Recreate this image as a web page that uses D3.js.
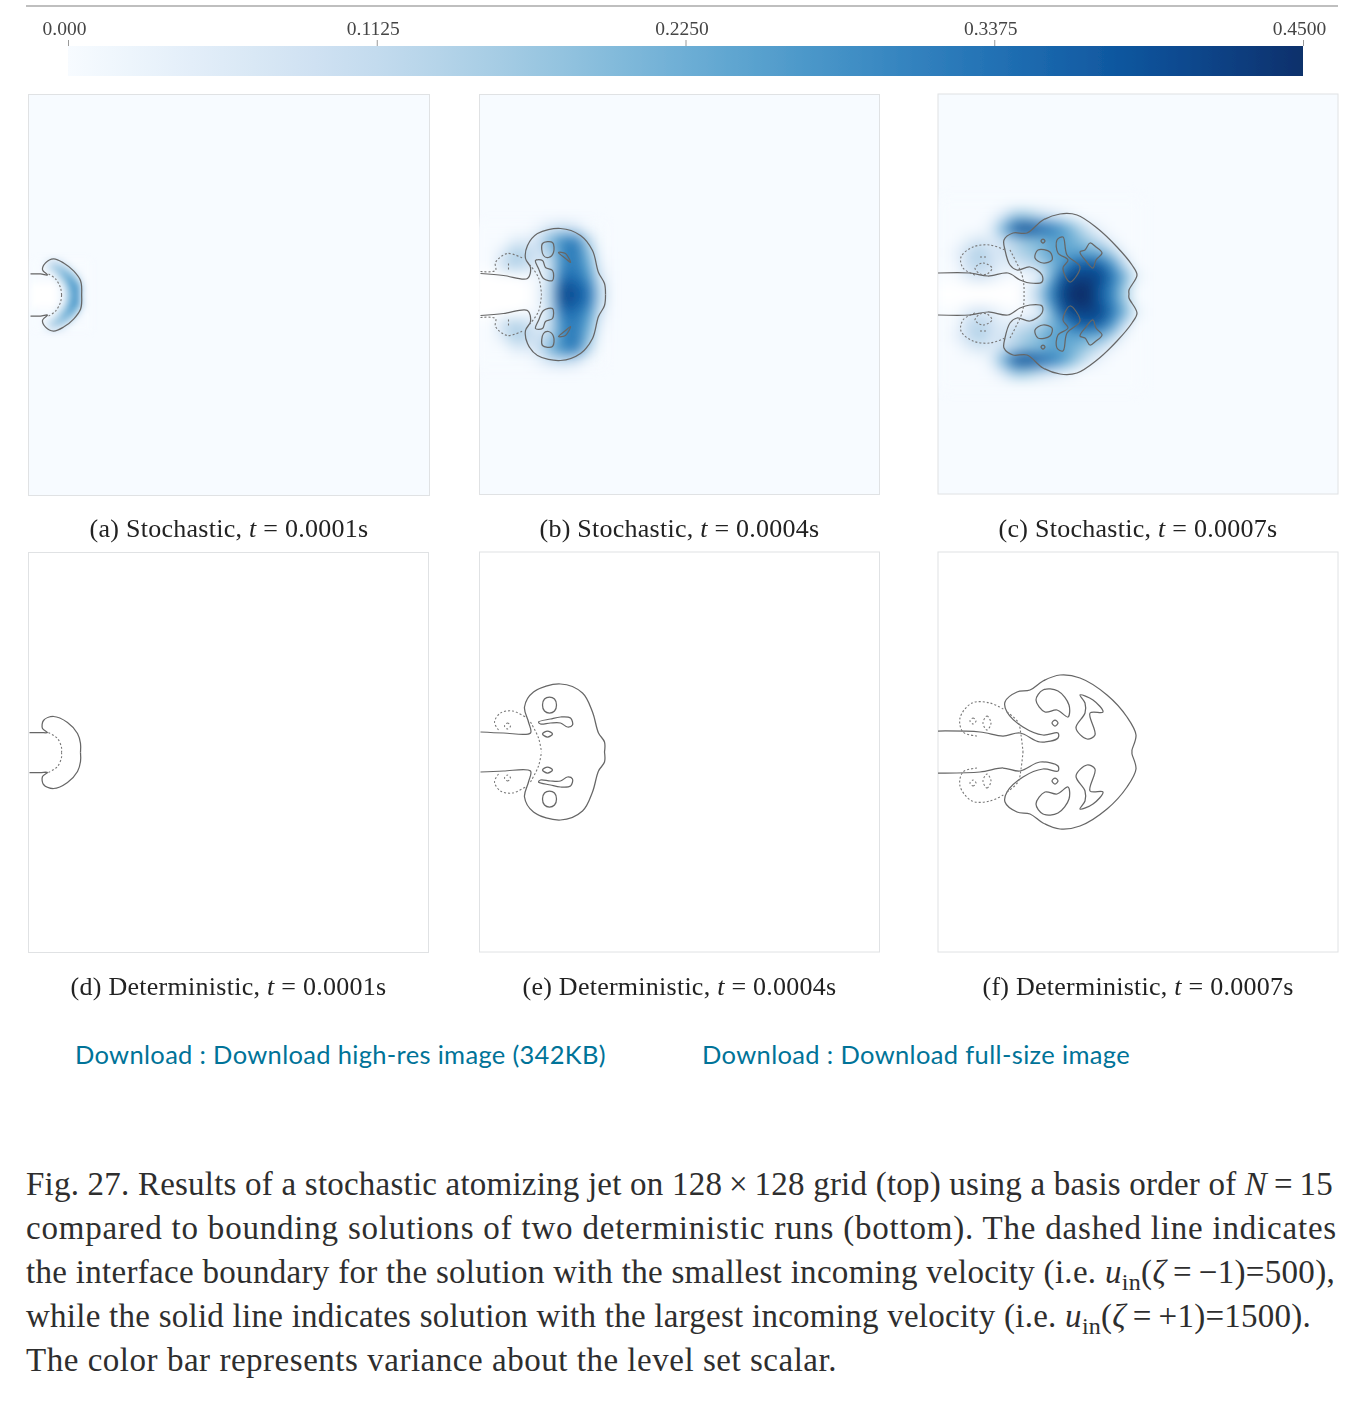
<!DOCTYPE html>
<html>
<head>
<meta charset="utf-8">
<script src="https://cdn.jsdelivr.net/npm/d3@7"></script>
<style>
  body { margin: 0; background: #fff; }
  svg { display: block; }
</style>
</head>
<body>
<svg id="fig" width="1352" height="1402"></svg>
<script>
// colour bar
const barTicks = [0, 0.1125, 0.225, 0.3375, 0.45];
const barTickLabels = ["0.000", "0.1125", "0.2250", "0.3375", "0.4500"];

// variance fields, upper half only (lower half is the mirror image)
// null = jet core, drawn white
const fieldA = { x0: 6, y0: 3, step: 6, rows: [
  [null, null, null, null, 0, 0.04, 0.2, 0.27, 0.05, 0],
  [null, null, null, null, 0, 0.07, 0.23, 0.26, 0.06, 0],
  [0, 0, 0, 0, 0.04, 0.16, 0.26, 0.17, 0.02, 0],
  [0, 0, 0, 0.02, 0.13, 0.22, 0.18, 0.06, 0, 0],
  [0, 0, 0.04, 0.13, 0.18, 0.15, 0.06, 0, 0, 0],
  [0, 0, 0.04, 0.1, 0.08, 0.03, 0, 0, 0, 0]
]};
const fieldB = { x0: 0, y0: 6, step: 12, rows: [
  [null, null, null, null, null, 0.02, 0.14, 0.41, 0.38, 0.34, 0.12],
  [null, null, null, null, 0, 0.01, 0.12, 0.34, 0.34, 0.28, 0.07],
  [0, 0, 0.1, 0.14, 0.1, 0.04, 0.11, 0.3, 0.32, 0.24, 0.03],
  [0, 0, 0.06, 0.15, 0.12, 0.08, 0.14, 0.3, 0.33, 0.2, 0.01],
  [0, 0, 0, 0.05, 0.05, 0.1, 0.22, 0.3, 0.32, 0.14, 0],
  [0, 0, 0, 0, 0, 0.03, 0.08, 0.1, 0.07, 0.01, 0]
]};
const fieldC = { x0: 6, y0: 6, step: 12, rows: [
  [null, null, null, null, null, null, null, 0.03, 0.14, 0.3, 0.42, 0.47, 0.45, 0.38, 0.3, 0.16, 0],
  [0, 0, 0.05, 0.08, 0.05, 0.01, 0, 0.01, 0.03, 0.22, 0.38, 0.42, 0.42, 0.41, 0.33, 0.22, 0.04],
  [0, 0.01, 0.1, 0.13, 0.09, 0.04, 0.07, 0.1, 0.14, 0.2, 0.27, 0.36, 0.38, 0.36, 0.27, 0.1, 0],
  [0, 0.03, 0.1, 0.15, 0.08, 0.07, 0.13, 0.16, 0.2, 0.26, 0.24, 0.25, 0.23, 0.22, 0.13, 0.02, 0],
  [0, 0, 0.04, 0.07, 0.05, 0.1, 0.14, 0.19, 0.2, 0.24, 0.24, 0.21, 0.16, 0.09, 0.02, 0, 0],
  [0, 0, 0, 0, 0.05, 0.22, 0.38, 0.4, 0.36, 0.32, 0.26, 0.17, 0.07, 0.02, 0, 0, 0],
  [0, 0, 0, 0, 0.01, 0.08, 0.18, 0.17, 0.12, 0.08, 0.04, 0.01, 0, 0, 0, 0, 0],
  [0, 0, 0, 0, 0, 0, 0, 0, 0, 0, 0, 0, 0, 0, 0, 0, 0]
]};

// interface contours, as [x, height above jet axis], upper half
const solidA = [[[2, 21], [12, 21], [19, 20], [14, 25], [17, 32], [25, 36], [35, 32], [45, 24], [52, 14], [53, 0]]];
const dashedA = [[[20, 21], [27, 16], [32, 7], [33, 0]]];

const solidB = [[[1, 21], [24, 19], [48, 16], [51, 27], [46, 36], [48, 49], [58, 61], [81, 66], [101, 59], [113, 44], [119, 22], [125, 11], [126, 0]]];
const blobsB = [
  [[63, 51], [73, 52], [74, 42], [69, 37], [64, 39]],
  [[56, 34], [63, 34], [66, 27], [73, 24], [73, 14], [64, 16], [59, 26]],
  [[79, 42], [86, 41], [91, 32], [86, 36]]
];
const dashedB = [
  [[1, 23], [16, 24], [16, 32], [28, 41], [44, 36]],
  [[50, 30], [59, 17], [62, 0]],
  [[29, 31], [29, 24]]
];

const solidC = [[[0, 21], [32, 21], [50, 18], [70, 21], [82, 14], [92, 11], [104, 12], [104, 19], [92, 27], [79, 24], [72, 29], [67, 44], [66, 54], [75, 61], [89, 61], [105, 74], [122, 80], [139, 79], [159, 66], [179, 47], [194, 29], [199, 19], [191, 4], [191, 0]]];
const blobsC = [
  [[97, 36], [100, 44], [112, 42], [114, 34], [105, 31]],
  [[119, 54], [125, 57], [129, 39], [142, 27], [132, 12], [125, 26], [130, 34], [120, 41]],
  [[142, 42], [147, 44], [152, 51], [158, 47], [164, 41], [158, 34], [155, 26], [148, 33]],
  [[103, 53], [105, 55], [107, 53], [105, 51]]
];
const dashedC = [
  [[37, 19], [25, 26], [23, 37], [35, 47], [52, 49], [67, 44]],
  [[72, 44], [84, 19], [86, 7], [86, 0]],
  [[42, 37], [48, 37]]
];
const dashedLoopsC = [[[37, 26], [45, 31], [54, 26], [49, 20], [42, 20]]];

const solidD = [[[1, 20], [12, 20], [19, 20], [14, 24], [15, 32], [25, 36], [39, 30], [49, 19], [52, 9], [52, 0]]];
const dashedD = [[[20, 20], [29, 14], [33, 5], [33, 0]]];

const solidE = [[[1, 20], [24, 19], [51, 19], [49, 30], [45, 45], [54, 60], [81, 68], [103, 59], [113, 40], [119, 19], [125, 10], [125, 0]]];
const blobsE = [
  [[63, 47], [65, 53], [70, 55], [75, 53], [77, 47], [75, 41], [70, 39], [65, 41]],
  [[59, 30], [71, 33], [81, 35], [91, 34], [93, 27], [88, 25], [81, 29], [71, 29], [61, 28]],
  [[63, 18], [68, 21], [73, 18], [68, 15]]
];
const dashedE = [
  [[19, 22], [15, 30], [21, 39], [33, 41], [46, 35]],
  [[51, 30], [59, 14], [62, 0]]
];
const dashedLoopsE = [[[25, 26], [28, 29], [31, 26], [28, 23]]];

const solidF = [[[0, 21], [42, 20], [65, 16], [82, 19], [102, 10], [120, 14], [120, 19], [105, 17], [85, 25], [69, 40], [67, 50], [79, 60], [92, 62], [105, 71], [122, 77], [142, 74], [169, 57], [189, 35], [198, 17], [194, 2], [194, 0]]];
const blobsF = [
  [[98, 52], [105, 62], [120, 61], [131, 47], [130, 35], [119, 42], [107, 40]],
  [[142, 57], [155, 52], [165, 40], [152, 39], [157, 17], [149, 13], [138, 24], [147, 39], [147, 49]],
  [[114, 29], [117, 32], [120, 29], [117, 26]]
];
const dashedF = [
  [[39, 16], [25, 20], [22, 34], [34, 49], [52, 49], [67, 42]],
  [[69, 40], [80, 30], [83, 17], [85, 0]]
];
const dashedLoopsF = [
  [[32, 31], [35, 34], [38, 31], [35, 28]],
  [[45, 29], [49, 36], [53, 29], [49, 22]]
];

const subLabels = [
  ["(a) Stochastic, ", "t", " = 0.0001s"],
  ["(b) Stochastic, ", "t", " = 0.0004s"],
  ["(c) Stochastic, ", "t", " = 0.0007s"],
  ["(d) Deterministic, ", "t", " = 0.0001s"],
  ["(e) Deterministic, ", "t", " = 0.0004s"],
  ["(f) Deterministic, ", "t", " = 0.0007s"]
];

const panels = [
  { left: 28.5, top: 94.5, size: 401, fill: "#f7fbff", field: fieldA, solid: solidA, blobs: [], dashed: dashedA, loops: [], label: 0, labelW: 279, labelY: 537 },
  { left: 479.5, top: 94.5, size: 400, fill: "#f7fbff", field: fieldB, solid: solidB, blobs: blobsB, dashed: dashedB, loops: [], label: 1, labelW: 280, labelY: 537 },
  { left: 938, top: 94, size: 400, fill: "#f7fbff", field: fieldC, solid: solidC, blobs: blobsC, dashed: dashedC, loops: dashedLoopsC, label: 2, labelW: 279, labelY: 537 },
  { left: 28.5, top: 552.5, size: 400, fill: "#fff", field: null, solid: solidD, blobs: [], dashed: dashedD, loops: [], label: 3, labelW: 316, labelY: 995 },
  { left: 479.5, top: 552, size: 400, fill: "#fff", field: null, solid: solidE, blobs: blobsE, dashed: dashedE, loops: dashedLoopsE, label: 4, labelW: 314, labelY: 995 },
  { left: 938, top: 552, size: 400, fill: "#fff", field: null, solid: solidF, blobs: blobsF, dashed: dashedF, loops: dashedLoopsF, label: 5, labelW: 311, labelY: 995 }
];

const downloadLinks = [
  { text: "Download : Download high-res image (342KB)", x: 75, w: 531 },
  { text: "Download : Download full-size image", x: 702, w: 428 }
];

// caption, runs are [text, style]
const captionLines = [
  { w: 1307, runs: [["Fig. 27. Results of a stochastic atomizing jet on 128\u2009×\u2009128 grid (top) using a basis order of "], ["N", "i"], ["\u2009=\u200915"]] },
  { w: 1311, runs: [["compared to bounding solutions of two deterministic runs (bottom). The dashed line indicates"]] },
  { w: 1309, runs: [["the interface boundary for the solution with the smallest incoming velocity (i.e. "], ["u", "i"], ["in", "s"], ["(", "b"], ["ζ", "i"], ["\u2009=\u2009−1)=500),"]] },
  { w: 1285, runs: [["while the solid line indicates solution with the largest incoming velocity (i.e. "], ["u", "i"], ["in", "s"], ["(", "b"], ["ζ", "i"], ["\u2009=\u2009+1)=1500)."]] },
  { w: 811, runs: [["The color bar represents variance about the level set scalar."]] }
];

const serif = "'Liberation Serif', serif";
const svg = d3.select("#fig");
const color = d3.scaleSequential(d3.interpolateBlues).domain([0, 0.45]);

// stretch a text to the width it has in the figure
function fitWidth(sel, target) {
  const len = sel.node().getComputedTextLength();
  const n = sel.text().length;
  sel.style("letter-spacing", ((target - len) / n) + "px");
}

const defs = svg.append("defs");
defs.append("filter").attr("id", "soft").attr("x", "-5%").attr("y", "-5%").attr("width", "110%").attr("height", "110%")
  .append("feGaussianBlur").attr("stdDeviation", 0.45);

// ---- colour bar ----
svg.append("line")
  .attr("x1", 26).attr("x2", 1338).attr("y1", 6).attr("y2", 6)
  .attr("stroke", "#aaa").attr("stroke-width", 1.5);

const gradient = defs.append("linearGradient").attr("id", "barGradient");
gradient.selectAll("stop")
  .data(d3.range(0, 1.0001, 0.05))
  .join("stop")
  .attr("offset", d => d)
  .attr("stop-color", d => color(d * 0.45));

const barScale = d3.scaleLinear().domain([0, 0.45]).range([68, 1303]);
const soft = svg.append("g").attr("filter", "url(#soft)");

soft.append("rect")
  .attr("x", barScale(0)).attr("y", 46)
  .attr("width", barScale(0.45) - barScale(0)).attr("height", 30)
  .attr("fill", "url(#barGradient)");

const barAxis = soft.append("g")
  .attr("transform", "translate(0,46)")
  .call(d3.axisTop(barScale).tickValues(barTicks).tickFormat((d, i) => barTickLabels[i]).tickSize(6).tickPadding(5));
barAxis.select(".domain").remove();
barAxis.selectAll(".tick line").attr("stroke", "#999");
barAxis.selectAll(".tick text")
  .attr("dx", -4)
  .style("font-family", serif).style("font-size", "19.5px").attr("fill", "#444");

// ---- panels ----
const line = d3.line().curve(d3.curveCatmullRom.alpha(0.5));
const loop = d3.line().curve(d3.curveCatmullRomClosed.alpha(0.5));

panels.forEach((p, i) => {
  const xScale = d3.scaleLinear().domain([0, 400]).range([p.left, p.left + p.size]);
  const yScale = d3.scaleLinear().domain([200, -200]).range([p.top, p.top + p.size]);
  const g = soft.append("g").attr("class", "panel");

  g.append("rect")
    .attr("x", p.left).attr("y", p.top).attr("width", p.size).attr("height", p.size)
    .attr("fill", p.fill).attr("stroke", "#e0e2e4").attr("stroke-width", 1);

  if (p.field) {
    const f = p.field;
    defs.append("filter").attr("id", `fieldBlur${i}`)
      .attr("filterUnits", "userSpaceOnUse")
      .attr("x", p.left).attr("y", p.top).attr("width", p.size).attr("height", p.size)
      .attr("color-interpolation-filters", "sRGB")
      .append("feGaussianBlur").attr("stdDeviation", f.step * 0.55);

    const cells = [];
    f.rows.forEach((row, r) => row.forEach((v, c) => {
      [1, -1].forEach(side => cells.push({
        x: f.x0 + c * f.step,
        y: side * (f.y0 + r * f.step),
        v
      }));
    }));

    g.append("g").attr("filter", `url(#fieldBlur${i})`)
      .selectAll("rect")
      .data(cells)
      .join("rect")
      .attr("x", d => xScale(d.x - f.step / 2))
      .attr("y", d => yScale(d.y + f.step / 2))
      .attr("width", xScale(f.step) - xScale(0) + 0.5)
      .attr("height", yScale(0) - yScale(f.step) + 0.5)
      .attr("fill", d => d.v === null ? "#fff" : color(d.v));
  }

  const contours = g.append("g").attr("fill", "none").attr("stroke-linejoin", "round");
  [1, -1].forEach(side => {
    const project = pts => pts.map(d => [xScale(d[0]), yScale(side * d[1])]);
    contours.append("g").attr("stroke", "#666").attr("stroke-width", 1.25)
      .selectAll("path")
      .data(p.solid)
      .join("path")
      .attr("d", d => line(project(d)));
    contours.append("g").attr("stroke", "#666").attr("stroke-width", 1.25)
      .selectAll("path")
      .data(p.blobs)
      .join("path")
      .attr("d", d => loop(project(d)));
    const dashes = contours.append("g").attr("stroke", "#777").attr("stroke-width", 1.1).attr("stroke-dasharray", "2,2");
    dashes.selectAll("path.open")
      .data(p.dashed)
      .join("path")
      .attr("class", "open")
      .attr("d", d => line(project(d)));
    dashes.selectAll("path.closed")
      .data(p.loops)
      .join("path")
      .attr("class", "closed")
      .attr("d", d => loop(project(d)));
  });

  // sub caption
  const label = soft.append("text")
    .attr("x", p.left + p.size / 2).attr("y", p.labelY)
    .attr("text-anchor", "middle")
    .style("font-family", serif).style("font-size", "26px").attr("fill", "#222");
  subLabels[p.label].forEach((s, k) => {
    label.append("tspan").text(s).style("font-style", k === 1 ? "italic" : "normal");
  });
  fitWidth(label, p.labelW);
});

// ---- download links ----
downloadLinks.forEach(d => {
  const t = svg.append("text")
    .attr("x", d.x).attr("y", 1064)
    .style("font-family", "Lato, sans-serif").style("font-size", "25.5px").attr("fill", "#007398")
    .text(d.text);
  fitWidth(t, d.w);
});

// ---- caption ----
captionLines.forEach((l, i) => {
  const t = svg.append("text")
    .attr("x", 26).attr("y", 1195 + i * 44)
    .style("font-family", serif).style("font-size", "33px").attr("fill", "#2e2e2e");
  l.runs.forEach(([s, style], k) => {
    const span = t.append("tspan").text(s);
    if (style === "i") span.style("font-style", "italic");
    if (style === "s") span.attr("dy", 7).style("font-size", "24px");
    if (style === "b") span.attr("dy", -7);
  });
  fitWidth(t, l.w);
});
</script>
</body>
</html>
